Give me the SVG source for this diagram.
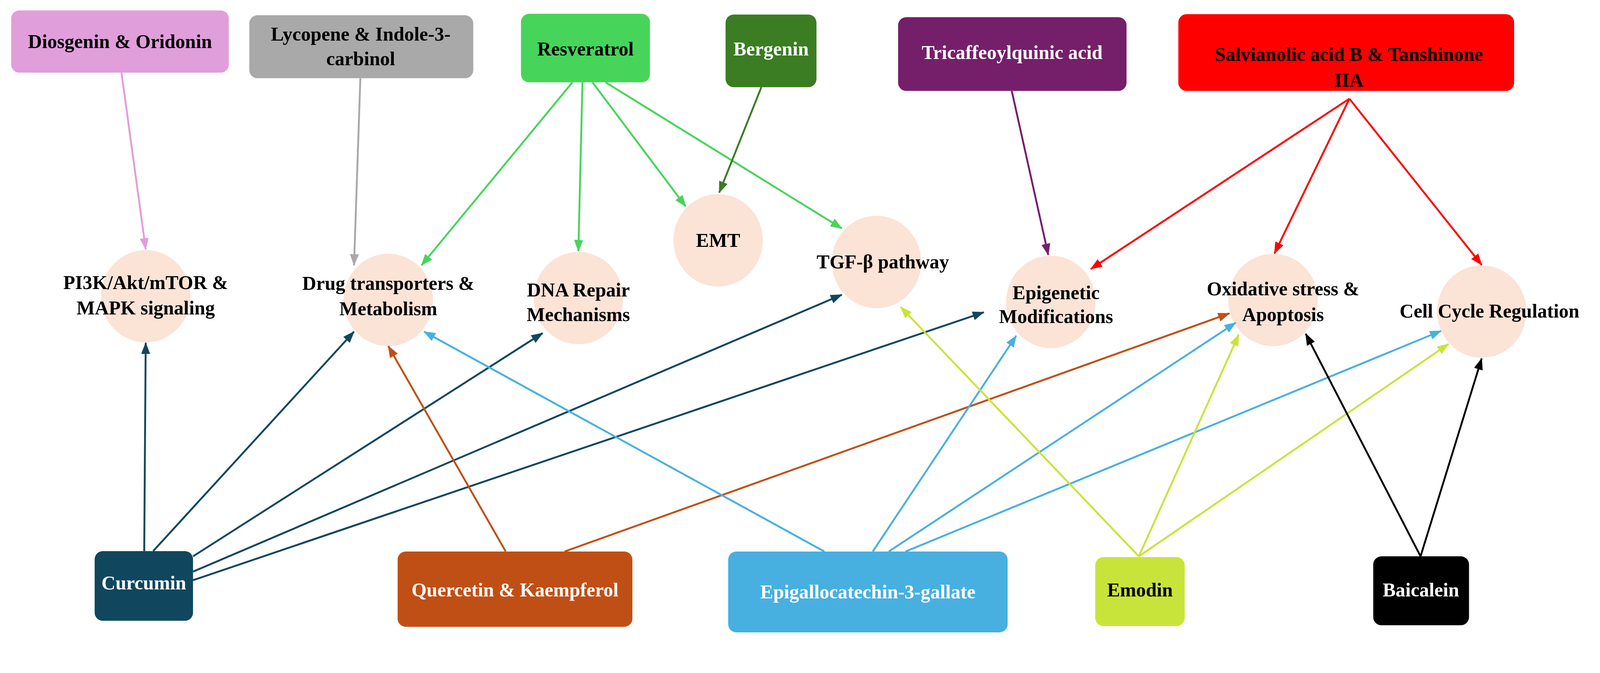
<svg xmlns="http://www.w3.org/2000/svg" width="4295" height="1723" viewBox="0 0 4295 1723">
<style>
text{font-family:"Liberation Serif","DejaVu Serif",serif;font-size:52px;font-weight:bold;text-anchor:middle;dominant-baseline:central}
.w{fill:#fff}.k{fill:#000}
.c{fill:#fbe3d6}
.e{fill:none;stroke-width:5}
</style>
<defs>
<marker id="m-pink" markerUnits="userSpaceOnUse" markerWidth="32" markerHeight="24" refX="30" refY="12" orient="auto"><path d="M0,0L32,12L0,24z" fill="#e09edb"/></marker>
<marker id="m-gray" markerUnits="userSpaceOnUse" markerWidth="32" markerHeight="24" refX="30" refY="12" orient="auto"><path d="M0,0L32,12L0,24z" fill="#a9a9a9"/></marker>
<marker id="m-lg" markerUnits="userSpaceOnUse" markerWidth="32" markerHeight="24" refX="30" refY="12" orient="auto"><path d="M0,0L32,12L0,24z" fill="#47d45a"/></marker>
<marker id="m-dg" markerUnits="userSpaceOnUse" markerWidth="32" markerHeight="24" refX="30" refY="12" orient="auto"><path d="M0,0L32,12L0,24z" fill="#3a7d22"/></marker>
<marker id="m-pu" markerUnits="userSpaceOnUse" markerWidth="32" markerHeight="24" refX="30" refY="12" orient="auto"><path d="M0,0L32,12L0,24z" fill="#751f6a"/></marker>
<marker id="m-red" markerUnits="userSpaceOnUse" markerWidth="32" markerHeight="24" refX="30" refY="12" orient="auto"><path d="M0,0L32,12L0,24z" fill="#ff0000"/></marker>
<marker id="m-nv" markerUnits="userSpaceOnUse" markerWidth="32" markerHeight="24" refX="30" refY="12" orient="auto"><path d="M0,0L32,12L0,24z" fill="#10475e"/></marker>
<marker id="m-or" markerUnits="userSpaceOnUse" markerWidth="32" markerHeight="24" refX="30" refY="12" orient="auto"><path d="M0,0L32,12L0,24z" fill="#c04f15"/></marker>
<marker id="m-bl" markerUnits="userSpaceOnUse" markerWidth="32" markerHeight="24" refX="30" refY="12" orient="auto"><path d="M0,0L32,12L0,24z" fill="#47b0e0"/></marker>
<marker id="m-ye" markerUnits="userSpaceOnUse" markerWidth="32" markerHeight="24" refX="30" refY="12" orient="auto"><path d="M0,0L32,12L0,24z" fill="#c8e43a"/></marker>
<marker id="m-bk" markerUnits="userSpaceOnUse" markerWidth="32" markerHeight="24" refX="30" refY="12" orient="auto"><path d="M0,0L32,12L0,24z" fill="#000"/></marker>
</defs>
<rect width="4295" height="1723" fill="#fff"/>
<g transform="scale(0.954)">
<g id="pi3k"><ellipse class="c" cx="391" cy="795" rx="120" ry="124"/><text x="391" y="758">PI3K/Akt/mTOR &amp;</text><text x="391" y="827">MAPK signaling</text></g>
<g id="drug"><ellipse class="c" cx="1042" cy="805" rx="120" ry="124"/><text x="1042" y="760">Drug transporters &amp;</text><text x="1042" y="829">Metabolism</text></g>
<g id="dna"><ellipse class="c" cx="1552" cy="800" rx="120" ry="124"/><text x="1552" y="778">DNA Repair</text><text x="1552" y="844">Mechanisms</text></g>
<g id="emt"><ellipse class="c" cx="1927" cy="645" rx="120" ry="124"/><text x="1927" y="645">EMT</text></g>
<g id="tgf"><ellipse class="c" cx="2352" cy="703" rx="120" ry="124"/><text x="2369" y="703">TGF-β pathway</text></g>
<g id="epi"><ellipse class="c" cx="2820" cy="810" rx="120" ry="124"/><text x="2834" y="786">Epigenetic</text><text x="2834" y="850">Modifications</text></g>
<g id="oxi"><ellipse class="c" cx="3416" cy="805" rx="120" ry="124"/><text x="3443" y="775">Oxidative stress &amp;</text><text x="3443" y="844">Apoptosis</text></g>
<g id="cell"><ellipse class="c" cx="3976" cy="836" rx="120" ry="124"/><text x="3997" y="835">Cell Cycle Regulation</text></g>

<g id="diosgenin"><rect x="30" y="28" width="584" height="167" rx="22" fill="#e09edb"/><text x="322" y="112">Diosgenin &amp; Oridonin</text></g>
<g id="lycopene"><rect x="669" y="41" width="601" height="169" rx="22" fill="#a9a9a9"/><text x="968" y="92">Lycopene &amp; Indole-3-</text><text x="968" y="158">carbinol</text></g>
<g id="resveratrol"><rect x="1398" y="37" width="346" height="184" rx="22" fill="#47d45a"/><text x="1571" y="132">Resveratrol</text></g>
<g id="bergenin"><rect x="1947" y="39" width="244" height="195" rx="22" fill="#3a7d22"/><text class="w" x="2069" y="132">Bergenin</text></g>
<g id="tricaffeoyl"><rect x="2410" y="46" width="613" height="198" rx="22" fill="#751f6a"/><text class="w" x="2716" y="141">Tricaffeoylquinic acid</text></g>
<g id="salvianolic"><rect x="3162" y="38" width="901" height="206" rx="22" fill="#ff0000"/><text x="3620" y="146">Salvianolic acid B &amp; Tanshinone</text><text x="3620" y="215">IIA</text></g>
<g id="curcumin"><rect x="254" y="1479" width="264" height="187" rx="22" fill="#10475e"/><text class="w" x="386" y="1564">Curcumin</text></g>
<g id="quercetin"><rect x="1067" y="1480" width="630" height="202" rx="22" fill="#c04f15"/><text class="w" x="1382" y="1583">Quercetin &amp; Kaempferol</text></g>
<g id="egcg"><rect x="1954" y="1480" width="750" height="217" rx="22" fill="#47b0e0"/><text class="w" x="2329" y="1589">Epigallocatechin-3-gallate</text></g>
<g id="emodin"><rect x="2939" y="1495" width="240" height="185" rx="22" fill="#c8e43a"/><text x="3059" y="1583">Emodin</text></g>
<g id="baicalein"><rect x="3685" y="1493" width="257" height="185" rx="22" fill="#000"/><text class="w" x="3813" y="1583">Baicalein</text></g>

<g id="connectors" class="e">
<line x1="326" y1="195" x2="391" y2="669" stroke="#e09edb" marker-end="url(#m-pink)"/>
<line x1="967" y1="210" x2="950" y2="712" stroke="#a9a9a9" marker-end="url(#m-gray)"/>
<line x1="1536" y1="221" x2="1131" y2="712" stroke="#47d45a" marker-end="url(#m-lg)"/>
<line x1="1563" y1="221" x2="1552" y2="674" stroke="#47d45a" marker-end="url(#m-lg)"/>
<line x1="1590" y1="221" x2="1840" y2="554" stroke="#47d45a" marker-end="url(#m-lg)"/>
<line x1="1625" y1="221" x2="2259" y2="613" stroke="#47d45a" marker-end="url(#m-lg)"/>
<line x1="2043" y1="234" x2="1930" y2="517" stroke="#3a7d22" marker-end="url(#m-dg)"/>
<line x1="2715" y1="244" x2="2813" y2="684" stroke="#751f6a" marker-end="url(#m-pu)"/>
<line x1="3621" y1="265" x2="2927" y2="722" stroke="#ff0000" marker-end="url(#m-red)"/>
<line x1="3621" y1="265" x2="3420" y2="680" stroke="#ff0000" marker-end="url(#m-red)"/>
<line x1="3621" y1="265" x2="3976" y2="711" stroke="#ff0000" marker-end="url(#m-red)"/>
<line x1="387" y1="1479" x2="391" y2="920" stroke="#10475e" marker-end="url(#m-nv)"/>
<line x1="411" y1="1479" x2="950" y2="890" stroke="#10475e" marker-end="url(#m-nv)"/>
<line x1="518" y1="1493" x2="1456" y2="894" stroke="#10475e" marker-end="url(#m-nv)"/>
<line x1="518" y1="1534" x2="2259" y2="791" stroke="#10475e" marker-end="url(#m-nv)"/>
<line x1="518" y1="1557" x2="2640" y2="838" stroke="#10475e" marker-end="url(#m-nv)"/>
<line x1="1357" y1="1480" x2="1042" y2="929" stroke="#c04f15" marker-end="url(#m-or)"/>
<line x1="1515" y1="1480" x2="3299" y2="841" stroke="#c04f15" marker-end="url(#m-or)"/>
<line x1="2212" y1="1480" x2="1138" y2="890" stroke="#47b0e0" marker-end="url(#m-bl)"/>
<line x1="2342" y1="1480" x2="2727" y2="901" stroke="#47b0e0" marker-end="url(#m-bl)"/>
<line x1="2385" y1="1480" x2="3316" y2="866" stroke="#47b0e0" marker-end="url(#m-bl)"/>
<line x1="2430" y1="1480" x2="3867" y2="888" stroke="#47b0e0" marker-end="url(#m-bl)"/>
<line x1="3056" y1="1493" x2="2417" y2="824" stroke="#c8e43a" marker-end="url(#m-ye)"/>
<line x1="3056" y1="1493" x2="3324" y2="898" stroke="#c8e43a" marker-end="url(#m-ye)"/>
<line x1="3056" y1="1493" x2="3887" y2="923" stroke="#c8e43a" marker-end="url(#m-ye)"/>
<line x1="3812" y1="1493" x2="3504" y2="896" stroke="#000" marker-end="url(#m-bk)"/>
<line x1="3812" y1="1493" x2="3976" y2="962" stroke="#000" marker-end="url(#m-bk)"/>
</g>
</g>
</svg>
